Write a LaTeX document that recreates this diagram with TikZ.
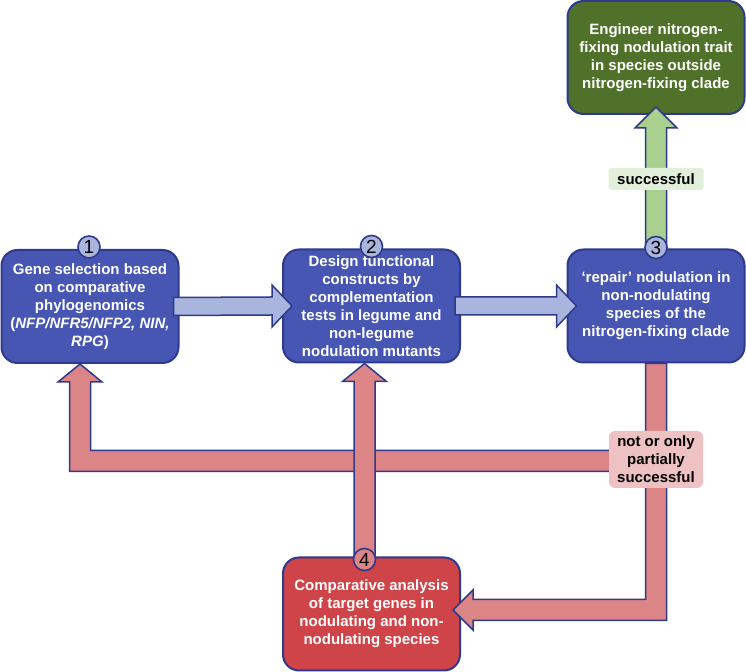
\documentclass[tikz,border=0pt]{standalone}
\usepackage{fontspec}
\setmainfont{Liberation Sans}
\usetikzlibrary{calc}

\definecolor{navy}{RGB}{47,58,140}
\definecolor{boxblue}{RGB}{71,86,178}
\definecolor{boxgreen}{RGB}{80,113,41}
\definecolor{boxred}{RGB}{206,68,72}
\definecolor{arrblue}{RGB}{170,181,222}
\definecolor{arrred}{RGB}{220,133,135}
\definecolor{arrgreen}{RGB}{169,208,142}
\definecolor{lblgreen}{RGB}{226,239,218}
\definecolor{lblred}{RGB}{238,193,195}

\begin{document}
\begin{tikzpicture}[x=0.5pt,y=-0.5pt,
    stage/.style={draw=navy,line width=1pt,rounded corners=8pt,minimum width=88.5pt,minimum height=56.5pt,
        inner sep=0pt,align=center,text=white,font=\bfseries\fontsize{7.5}{9}\selectfont},
    num/.style={circle,draw=navy,line width=0.8pt,fill=arrblue,minimum size=11pt,inner sep=0pt,
        font=\fontsize{9.5}{9.5}\selectfont},
    lbl/.style={inner sep=0pt,align=center,font=\bfseries\fontsize{7.5}{9}\selectfont},
    barrow/.style={draw=navy,line width=0.75pt,fill=arrblue,line join=miter},
    rarrow/.style={draw=navy,line width=0.75pt,fill=arrred,line join=miter},
    garrow/.style={draw=navy,line width=0.75pt,fill=arrgreen,line join=miter}]

    \useasboundingbox (0,0) rectangle (746,672);

    \node[stage,fill=boxblue] (sel) at (90,306.5) {Gene selection based\\on comparative\\phylogenomics\\(\textit{NFP/NFR5/NFP2, NIN,}\\\textit{RPG})};
    \node[stage,fill=boxblue] (des) at (371.5,306) {Design functional\\constructs by\\complementation\\tests in legume and\\non-legume\\nodulation mutants};
    \node[stage,fill=boxblue] (rep) at (656,306) {‘repair’ nodulation in\\non-nodulating\\species of the\\nitrogen-fixing clade};
    \node[stage,fill=boxgreen] (eng) at (656,57.5) {Engineer nitrogen-\\fixing nodulation trait\\in species outside\\nitrogen-fixing clade};
    \node[stage,fill=boxred] (cmp) at (371.5,614) {Comparative analysis\\of target genes in\\nodulating and non-\\nodulating species};

    \coordinate (split) at (656,461);
    \coordinate (tip1) at ($(sel.south)+(-10,0)$);
    \coordinate (c1) at (tip1 |- split);
    \coordinate (tip2) at ($(des.south)+(-7,0)$);
    \coordinate (foot2) at (tip2 |- cmp.north);
    \coordinate (c3) at ($(rep.south |- cmp.east)+(0,-4)$);

    \draw[barrow] ($(sel.east)+(-6,-9)$) -- ($(des.west)+(-10,-9)$) -- ($(des.west)+(-10,-21)$) -- ($(des.west)+(10,0)$)
        -- ($(des.west)+(-10,21)$) -- ($(des.west)+(-10,9)$) -- ($(sel.east)+(-6,9)$) -- cycle;
    \draw[barrow] ($(des.east)+(-6,-9)$) -- ($(rep.west)+(-10,-9)$) -- ($(rep.west)+(-10,-21)$) -- ($(rep.west)+(10,0)$)
        -- ($(rep.west)+(-10,21)$) -- ($(rep.west)+(-10,9)$) -- ($(des.east)+(-6,9)$) -- cycle;

    \draw[garrow] ($(rep.north)+(-10.5,0)$) -- ($(eng.south)+(-10.5,13)$) -- ($(eng.south)+(-21,13)$) -- ($(eng.south)+(0,-8)$)
        -- ($(eng.south)+(21,13)$) -- ($(eng.south)+(10.5,13)$) -- ($(rep.north)+(10.5,0)$) -- cycle;

    \draw[rarrow] ($(rep.south)+(10.5,0)$) -- ($(c3)+(10.5,10.5)$) -- ($(cmp.east)+(12,6.5)$) -- ($(cmp.east)+(12,16)$)
        -- ($(cmp.east)+(-8,-4)$) -- ($(cmp.east)+(12,-24)$) -- ($(cmp.east)+(12,-14.5)$) -- ($(c3)+(-10.5,-10.5)$)
        -- ($(rep.south)+(-10.5,0)$) -- cycle;
    \draw[rarrow] ($(split)+(-30,-10.5)$) -- ($(c1)+(10.5,-10.5)$) -- ($(tip1)+(10.5,18)$) -- ($(tip1)+(22,18)$) -- (tip1)
        -- ($(tip1)+(-22,18)$) -- ($(tip1)+(-10.5,18)$) -- ($(c1)+(-10.5,10.5)$) -- ($(split)+(-30,10.5)$) -- cycle;
    \draw[rarrow] ($(foot2)+(-10.5,0)$) -- ($(tip2)+(-10.5,18)$) -- ($(tip2)+(-22,18)$) -- (tip2)
        -- ($(tip2)+(22,18)$) -- ($(tip2)+(10.5,18)$) -- ($(foot2)+(10.5,0)$) -- cycle;

    \node[num] (n1) at ($(sel.north)+(-1,-2)$) {1};
    \node[num] (n2) at ($(des.north)+(0,-2)$) {2};
    \node[num] (n3) at ($(rep.north)+(0,-1)$) {3};
    \node[num,fill=arrred] (n4) at ($(foot2)+(0,3)$) {4};

    \node[lbl,fill=lblgreen,rounded corners=1.5pt,minimum width=47.5pt,minimum height=11pt] (ok) at (656,179) {successful};
    \node[lbl,fill=lblred,rounded corners=3pt,minimum width=47pt,minimum height=28.5pt] (fail) at ($(split)+(0,-1.5)$) {not or only\\partially\\successful};
\end{tikzpicture}
\end{document}
